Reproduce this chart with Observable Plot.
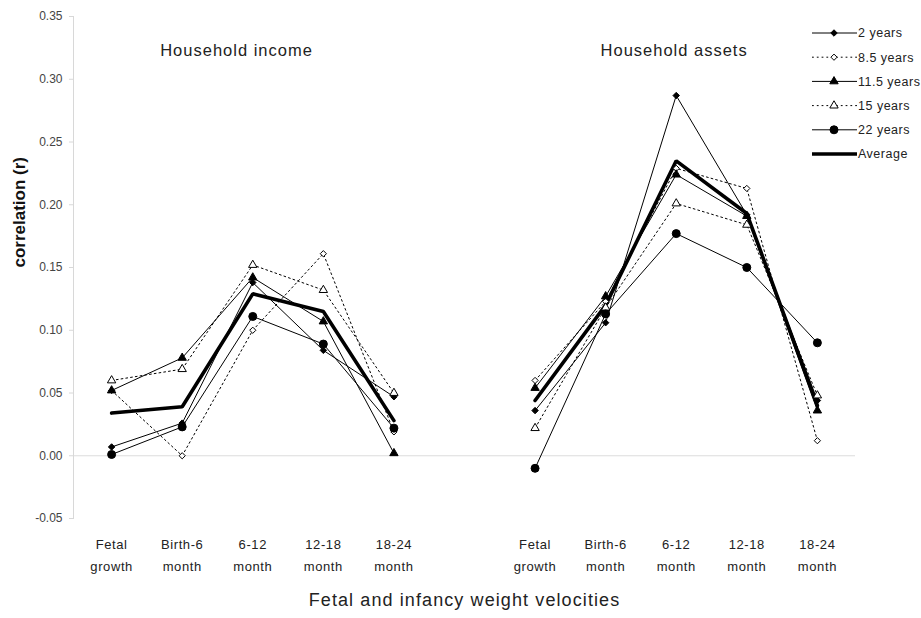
<!DOCTYPE html>
<html><head><meta charset="utf-8">
<script src="https://cdn.jsdelivr.net/npm/d3@7"></script>
<script src="https://cdn.jsdelivr.net/npm/@observablehq/plot@0.6"></script>
<style>
body{margin:0;background:#fff;}
#wrap{position:relative;width:921px;height:618px;}
#legend{position:absolute;left:0;top:0;pointer-events:none;}
.ttl{letter-spacing:1px;}
.xt{letter-spacing:0.6px;}
.axt{letter-spacing:1.1px;}
</style></head><body><div id="wrap"></div>
<script>
// ---- data ----
const periods = ["Fetal\ngrowth","Birth-6\nmonth","6-12\nmonth","12-18\nmonth","18-24\nmonth"];
const panels = ["Household income","Household assets"];
const seriesNames = ["2 years","8.5 years","11.5 years","15 years","22 years","Average"];
const yTicks = [-0.05,0.00,0.05,0.10,0.15,0.20,0.25,0.30,0.35];

const income_2y   = [0.007, 0.026, 0.138, 0.084, 0.047];
const income_8_5y = [0.052, 0.000, 0.100, 0.161, 0.019];
const income_11_5y= [0.052, 0.078, 0.142, 0.107, 0.002];
const income_15y  = [0.060, 0.069, 0.152, 0.132, 0.050];
const income_22y  = [0.001, 0.023, 0.111, 0.089, 0.022];
const income_avg  = [0.034, 0.039, 0.129, 0.115, 0.028];

const assets_2y   = [0.036, 0.106, 0.287, 0.192, 0.044];
const assets_8_5y = [0.060, 0.123, 0.229, 0.213, 0.012];
const assets_11_5y= [0.054, 0.127, 0.224, 0.191, 0.036];
const assets_15y  = [0.022, 0.118, 0.201, 0.184, 0.048];
const assets_22y  = [-0.010, 0.113, 0.177, 0.150, 0.090];
const assets_avg  = [0.044, 0.120, 0.235, 0.193, 0.040];

// ---- build table ----
const incomeSeries = [income_2y, income_8_5y, income_11_5y, income_15y, income_22y, income_avg];
const assetsSeries = [assets_2y, assets_8_5y, assets_11_5y, assets_15y, assets_22y, assets_avg];
const rows = [];
[incomeSeries, assetsSeries].forEach((set, p) => {
  set.forEach((vals, s) => {
    vals.forEach((v, i) => rows.push({panel: panels[p], series: seriesNames[s], key: panels[p] + "|" + seriesNames[s], pos: p * 6 + i, period: periods[i], value: v}));
  });
});
const xTickPos = rows.filter(d => d.series === seriesNames[0]).map(d => d.pos);
const labelAt = new Map(rows.map(d => [d.pos, d.period]));

const styles = {
  "2 years":   {dash: null, symbol: "diamond2", fill: "black", r: 2.9},
  "8.5 years": {dash: "1.8,3", symbol: "diamond2", fill: "white", r: 2.8},
  "11.5 years":{dash: null, symbol: "triangle", fill: "black", r: 3.1},
  "15 years":  {dash: "1.8,3", symbol: "triangle", fill: "white", r: 3.1},
  "22 years":  {dash: null, symbol: "circle", fill: "black", r: 4},
  "Average":   {dash: null, symbol: null, width: 3.6}
};

const marks = [
  Plot.ruleY([0], {stroke: "#dcdcdc", strokeWidth: 1}),
  Plot.axisY({ticks: yTicks, tickFormat: d => d.toFixed(2), tickSize: 4, tickPadding: 7, stroke: "#d8d8d8", fill: "#444", fontSize: 12, label: null}),
  Plot.axisX({ticks: xTickPos, tickFormat: d => labelAt.get(d), tickSize: 0, tickPadding: 15, fontSize: 13, lineHeight: 1.7, fill: "#222", label: null, className: "xt"}),
  Plot.frame({anchor: "left", stroke: "#d8d8d8"})
];
seriesNames.forEach(name => {
  const st = styles[name];
  const data = rows.filter(d => d.series === name);
  marks.push(Plot.line(data, {x: "pos", y: "value", z: "key", stroke: "black",
    strokeWidth: st.width || 1, strokeDasharray: st.dash || undefined, strokeLinejoin: "miter"}));
});
seriesNames.forEach(name => {
  const st = styles[name];
  if (!st.symbol) return;
  const data = rows.filter(d => d.series === name);
  marks.push(Plot.dot(data, {x: "pos", y: "value", symbol: () => st.symbol, r: st.r, fill: st.fill, stroke: "black", strokeWidth: 1}));
});
// panel titles
marks.push(Plot.text(panels, {x: (d, i) => i === 0 ? 1.77 : 7.97, y: 0.323, text: d => d, fontSize: 16.5, fill: "#222", className: "ttl"}));
// axis titles
marks.push(Plot.text(["Fetal and infancy weight velocities"], {frameAnchor: "bottom", dy: 87, fontSize: 18, fill: "#222", className: "axt"}));
marks.push(Plot.text(["correlation (r)"], {frameAnchor: "left", dx: -54, rotate: -90, fontSize: 17, fontWeight: "bold", fill: "#111"}));

const chart = Plot.plot({
  width: 921, height: 618,
  marginLeft: 73, marginRight: 66, marginTop: 16, marginBottom: 100,
  x: {type: "linear", domain: [-0.54, 10.54]},
  y: {domain: [-0.05, 0.35]},
  style: {fontFamily: "'Liberation Sans', Arial, sans-serif", background: "white"},
  marks
});
document.getElementById("wrap").appendChild(chart);

// ---- legend ----
const legend = d3.select("#wrap").append("svg").attr("id", "legend").attr("width", 921).attr("height", 170)
  .style("font-family", "'Liberation Sans', Arial, sans-serif");
const symMap = {diamond2: d3.symbolDiamond2, triangle: d3.symbolTriangle, circle: d3.symbolCircle};
seriesNames.forEach((name, i) => {
  const st = styles[name];
  const y = 33 + i * 24.2;
  const g = legend.append("g").attr("transform", `translate(812,${y})`);
  g.append("line").attr("x1", 0).attr("x2", 45).attr("y1", 0).attr("y2", 0)
    .attr("stroke", "black").attr("stroke-width", st.width || 1).attr("stroke-dasharray", st.dash || null);
  if (st.symbol) {
    g.append("path").attr("transform", "translate(22,0)")
      .attr("d", d3.symbol(symMap[st.symbol], Math.PI * st.r * st.r)())
      .attr("fill", st.fill).attr("stroke", "black");
  }
  g.append("text").attr("x", 46).attr("y", 0).attr("dy", "0.35em").attr("font-size", 12.5)
    .attr("letter-spacing", "0.5px").attr("fill", "#222").text(name);
});
</script></body></html>
